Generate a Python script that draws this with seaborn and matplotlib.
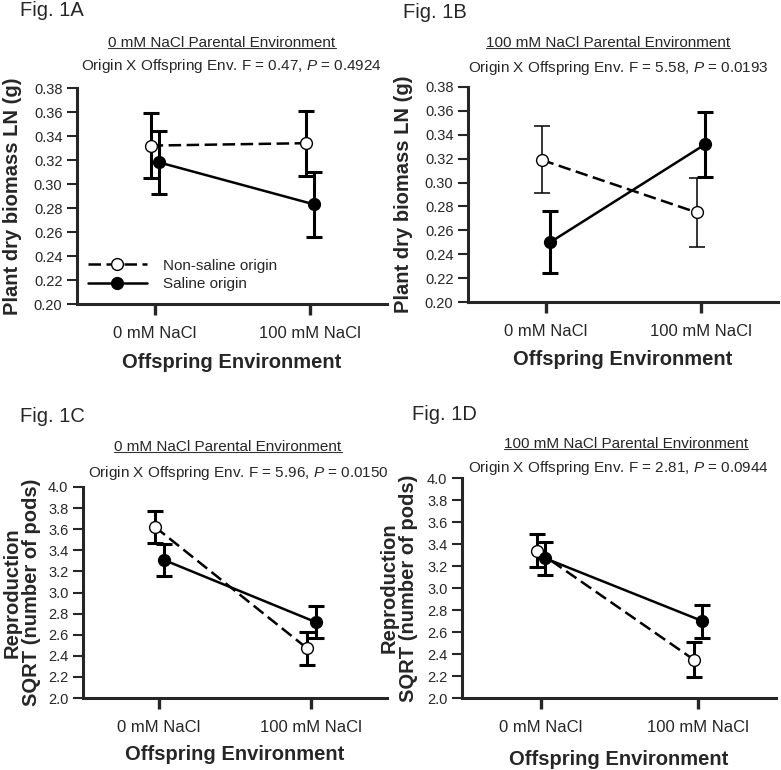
import numpy as np
import pandas as pd
import matplotlib
matplotlib.use("Agg")
import matplotlib.pyplot as plt
import seaborn as sns
from matplotlib.lines import Line2D

sns.set_style("ticks")
plt.rcParams['font.family'] = ['Liberation Sans', 'DejaVu Sans']
plt.rcParams['mathtext.fontset'] = 'custom'
plt.rcParams['mathtext.rm'] = 'Liberation Sans'
plt.rcParams['mathtext.it'] = 'Liberation Sans:italic'

# categories
envs = ['0 mM NaCl', '100 mM NaCl']
origins = ['Non-saline origin', 'Saline origin']

# Fig 1A - biomass, 0 mM parental
a_nonsal = [0.332, 0.334]
a_nonsal_se = [0.027, 0.027]
a_sal = [0.318, 0.283]
a_sal_se = [0.026, 0.027]

# Fig 1B - biomass, 100 mM parental
b_nonsal = [0.319, 0.275]
b_nonsal_se = [0.028, 0.029]
b_sal = [0.250, 0.332]
b_sal_se = [0.026, 0.027]

# Fig 1C - reproduction, 0 mM parental
c_nonsal = [3.62, 2.47]
c_nonsal_se = [0.155, 0.155]
c_sal = [3.31, 2.72]
c_sal_se = [0.15, 0.15]

# Fig 1D - reproduction, 100 mM parental
d_nonsal = [3.34, 2.35]
d_nonsal_se = [0.15, 0.155]
d_sal = [3.27, 2.70]
d_sal_se = [0.15, 0.15]

biomass_ticks = [0.20, 0.22, 0.24, 0.26, 0.28, 0.30, 0.32, 0.34, 0.36, 0.38]
repro_ticks = [2.0, 2.2, 2.4, 2.6, 2.8, 3.0, 3.2, 3.4, 3.6, 3.8, 4.0]

DASH = (0, (5, 2.2))
W = 781
H = 770


def draw_panel(ax, nonsal, nonsal_se, sal, sal_se, thin_nonsal=False):
    df = pd.DataFrame({
        'env': envs * 2,
        'origin': [origins[0]] * 2 + [origins[1]] * 2,
        'mean': nonsal + sal,
        'se': nonsal_se + sal_se,
    })
    df['x'] = df['env'].map({e: i for i, e in enumerate(envs)}) + \
        df['origin'].map({origins[0]: -0.025, origins[1]: 0.03})

    for origin, face, ls in [(origins[0], 'white', DASH), (origins[1], 'black', '-')]:
        sub = df[df['origin'] == origin]
        ew = 1.1 if (thin_nonsal and origin == origins[0]) else 2.2
        ax.errorbar(sub['x'], sub['mean'], yerr=sub['se'], fmt='none',
                    ecolor='black', elinewidth=ew, capsize=6, capthick=ew, zorder=2)
        sns.lineplot(data=sub, x='x', y='mean', ax=ax, color='black', lw=1.8,
                     linestyle=ls, marker='o', markersize=8.5,
                     markerfacecolor=face, markeredgecolor='black',
                     markeredgewidth=1.0, errorbar=None, zorder=3)

    ax.set_xlim(-0.5, 1.5)
    ax.set_xticks([0, 1])
    ax.set_xticklabels(envs)
    ax.set_xlabel('Offspring Environment', fontsize=14.5, fontweight='bold')
    sns.despine(ax=ax)
    for s in ['left', 'bottom']:
        ax.spines[s].set_linewidth(2.2)
    ax.tick_params(axis='y', length=7, width=1.5, labelsize=10.5, pad=3.5)
    ax.tick_params(axis='x', length=8, width=2.4, labelsize=12, pad=8)


fig = plt.figure(figsize=(W / 100, H / 100), dpi=100)


def add_axes(left, right, top, bottom):
    return fig.add_axes([left / W, 1 - bottom / H, (right - left) / W, (bottom - top) / H])


axA = add_axes(77, 387, 88, 304)
axB = add_axes(468, 778, 87, 302)
axC = add_axes(83, 387, 487, 698)
axD = add_axes(462, 776, 478, 698)

draw_panel(axA, a_nonsal, a_nonsal_se, a_sal, a_sal_se)
draw_panel(axB, b_nonsal, b_nonsal_se, b_sal, b_sal_se, thin_nonsal=True)
draw_panel(axC, c_nonsal, c_nonsal_se, c_sal, c_sal_se)
draw_panel(axD, d_nonsal, d_nonsal_se, d_sal, d_sal_se)

for ax in [axA, axB]:
    ax.set_ylim(0.20, 0.38)
    ax.set_yticks(biomass_ticks)
    ax.set_yticklabels([f'{t:.2f}' for t in biomass_ticks])
    ax.set_ylabel('Plant dry biomass LN (g)', fontsize=14.5, fontweight='bold')
    ax.yaxis.set_label_coords(-0.177, 0.5)
    ax.xaxis.set_label_coords(0.5, -0.225)

for ax, lx in [(axC, -0.138), (axD, -0.14)]:
    ax.set_ylim(2.0, 4.0)
    ax.set_yticks(repro_ticks)
    ax.set_yticklabels([f'{t:.1f}' for t in repro_ticks])
    ax.set_ylabel('Reproduction\nSQRT (number of pods)', fontsize=14.5,
                  fontweight='bold', linespacing=1.05)
    ax.yaxis.set_label_coords(lx, 0.5)
axC.xaxis.set_label_coords(0.5, -0.225)
axD.xaxis.set_label_coords(0.5, -0.235)

# legend in panel A
handles = [
    Line2D([], [], color='black', lw=1.8, linestyle=DASH, marker='o', markersize=8.5,
           markerfacecolor='white', markeredgecolor='black'),
    Line2D([], [], color='black', lw=1.8, marker='o', markersize=8.5,
           markerfacecolor='black', markeredgecolor='black'),
]
axA.legend(handles, origins, loc='lower left', bbox_to_anchor=(-0.01, -0.005),
           frameon=False, fontsize=11, handlelength=3.9, handletextpad=1.0,
           labelspacing=0.3)

# figure labels and panel titles
panel_labels = ['Fig. 1A', 'Fig. 1B', 'Fig. 1C', 'Fig. 1D']
label_pos = [(20, 10), (403, 12), (20, 417), (412, 415)]
for lab, (x, y) in zip(panel_labels, label_pos):
    fig.text(x / W, 1 - y / H, lab, fontsize=14.5, ha='left', va='center')

titles = ['0 mM NaCl Parental Environment', '100 mM NaCl Parental Environment',
          '0 mM NaCl Parental Environment', '100 mM NaCl Parental Environment']
title_pos = [(222, 43), (608, 43), (228, 447), (626, 444)]
stats = ['Origin X Offspring Env. F = 0.47, $\\mathit{P}$ = 0.4924',
         'Origin X Offspring Env. F = 5.58, $\\mathit{P}$ = 0.0193',
         'Origin X Offspring Env. F = 5.96, $\\mathit{P}$ = 0.0150',
         'Origin X Offspring Env. F = 2.81, $\\mathit{P}$ = 0.0944']
stats_pos = [(231, 66), (618, 68), (238, 473), (618, 468)]

title_texts = []
for t, (x, y) in zip(titles, title_pos):
    title_texts.append(fig.text(x / W, 1 - y / H, t, fontsize=11, ha='center', va='center'))
for s, (x, y) in zip(stats, stats_pos):
    fig.text(x / W, 1 - y / H, s, fontsize=11, ha='center', va='center')

# underline the panel titles
fig.canvas.draw()
renderer = fig.canvas.get_renderer()
for t in title_texts:
    bb = t.get_window_extent(renderer)
    yline = (bb.y0 + 2.5) / H
    fig.add_artist(Line2D([bb.x0 / W, bb.x1 / W], [yline, yline],
                          color='#333333', lw=0.8, transform=fig.transFigure))

fig.savefig('out.png', dpi=100)
